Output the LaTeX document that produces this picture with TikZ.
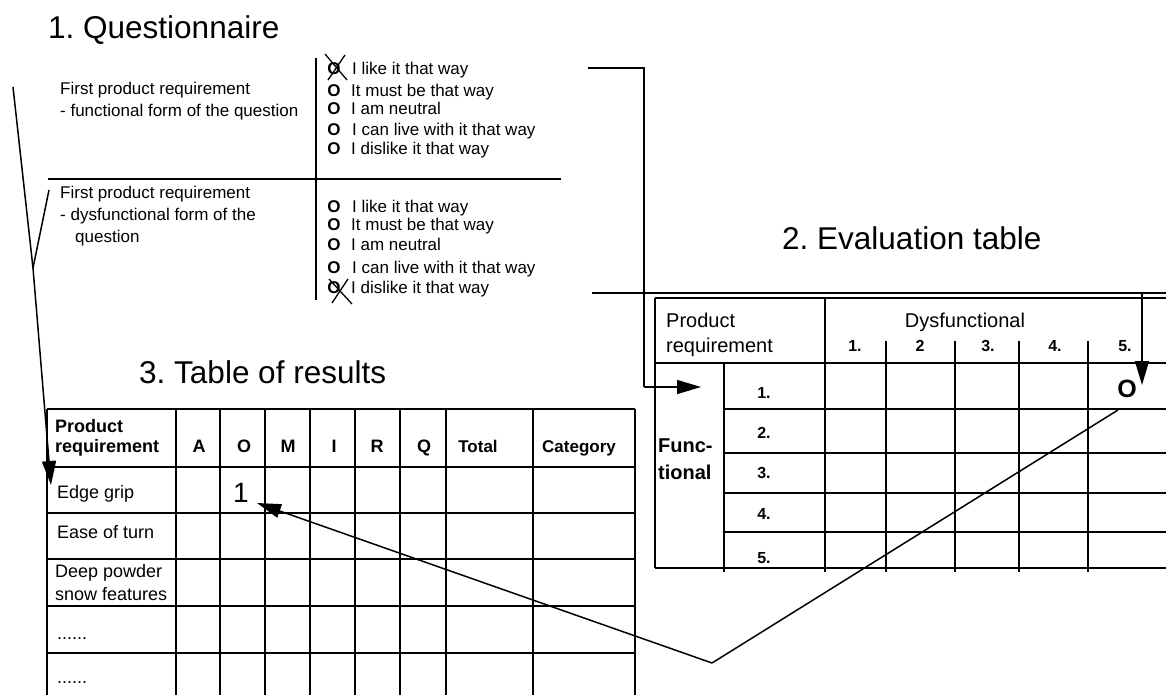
\documentclass[tikz,border=0pt]{standalone}
\usepackage{fontspec}
\setmainfont{Liberation Sans}
\usetikzlibrary{arrows.meta}

\begin{document}
\frenchspacing
\begin{tikzpicture}[x=1pt,y=-1pt,
        grid/.style={line width=1.6pt},
        link/.style={line width=1.5pt},
        linkarrow/.style={line width=1.5pt,-{Triangle[length=24pt,width=14pt]}},
        crossline/.style={line width=1.3pt},
        heading/.style={anchor=base west,inner sep=0pt,font=\fontsize{31.5}{34}\selectfont},
        qtext/.style={anchor=base west,inner sep=0pt,font=\fontsize{17}{20}\selectfont},
        qmark/.style={anchor=base,inner sep=0pt,font=\bfseries\fontsize{17}{20}\selectfont},
        etext/.style={anchor=base west,inner sep=0pt,font=\fontsize{20}{24}\selectfont},
        enum/.style={anchor=base,inner sep=0pt,font=\bfseries\fontsize{16}{20}\selectfont},
        rhead/.style={anchor=base,inner sep=0pt,font=\bfseries\fontsize{18}{22}\selectfont},
        rtext/.style={anchor=base west,inner sep=0pt,font=\fontsize{18}{22}\selectfont}]
    \useasboundingbox (0,0) rectangle (1166,695);

    % titles
    \node[heading] (qtitle) at (48,39) {1. Questionnaire};
    \node[heading] (etitle) at (782,249) {2. Evaluation table};
    \node[heading] (rtitle) at (139,383) {3. Table of results};

    % questionnaire
    \draw[grid] (316,58) -- (316,300);
    \draw[grid] (48,179) -- (561,179);
    \begin{scope}[every node/.style={qtext}]
        \node (qf1) at (60,95) {First product requirement};
        \node (qf2) at (60,117) {- functional form of the question};
        \node (qd1) at (60,198) {First product requirement};
        \node (qd2) at (60,220) {- dysfunctional form of the};
        \node (qd3) at (75,242) {question};
        \node (fo1) at (352,75) {I like it that way};
        \node (fo2) at (351,97) {It must be that way};
        \node (fo3) at (351,115) {I am neutral};
        \node (fo4) at (352,136) {I can live with it that way};
        \node (fo5) at (351,155) {I dislike it that way};
        \node (do1) at (352,212) {I like it that way};
        \node (do2) at (351,230) {It must be that way};
        \node (do3) at (351,250) {I am neutral};
        \node (do4) at (352,273) {I can live with it that way};
        \node (do5) at (351,293) {I dislike it that way};
    \end{scope}
    \begin{scope}[every node/.style={qmark}]
        \node (fm1) at (334,75) {O};
        \node (fm2) at (334,97) {O};
        \node (fm3) at (334,115) {O};
        \node (fm4) at (334,136) {O};
        \node (fm5) at (334,155) {O};
        \node (dm1) at (334,212) {O};
        \node (dm2) at (334,230) {O};
        \node (dm3) at (334,250) {O};
        \node (dm4) at (334,273) {O};
        \node (dm5) at (334,293) {O};
    \end{scope}
    \draw[crossline] (325,54) -- (347,80);
    \draw[crossline] (345,55) -- (328,80);
    \draw[crossline] (329,279) -- (352,304);
    \draw[crossline] (348,279) -- (332,303);

    % evaluation table
    \draw[grid] (655,298) -- (1166,298);
    \draw[grid] (655,363) -- (1166,363);
    \draw[grid] (724,409) -- (1166,409);
    \draw[grid] (724,453) -- (1166,453);
    \draw[grid] (724,493) -- (1166,493);
    \draw[grid] (724,532) -- (1166,532);
    \draw[grid] (655,568) -- (1166,568);
    \draw[grid] (655,298) -- (655,568);
    \draw[grid] (724,363) -- (724,572);
    \draw[grid] (825,298) -- (825,572);
    \draw[grid] (886,341) -- (886,572);
    \draw[grid] (955,341) -- (955,572);
    \draw[grid] (1019,341) -- (1019,572);
    \draw[grid] (1088,341) -- (1088,572);
    \node[etext] (eprod1) at (666,327) {Product};
    \node[etext] (eprod2) at (666,352) {requirement};
    \node[etext,anchor=base] (edys) at (965,327) {Dysfunctional};
    \begin{scope}[every node/.style={enum}]
        \node (ec1) at (855,351) {1.};
        \node (ec2) at (920,351) {2};
        \node (ec3) at (988,351) {3.};
        \node (ec4) at (1055,351) {4.};
        \node (ec5) at (1125,351) {5.};
        \node (er1) at (764,398) {1.};
        \node (er2) at (764,438) {2.};
        \node (er3) at (764,478) {3.};
        \node (er4) at (764,519) {4.};
        \node (er5) at (764,563) {5.};
    \end{scope}
    \node[etext,font=\bfseries\fontsize{20}{24}\selectfont] (efunc1) at (658,452) {Func-};
    \node[etext,font=\bfseries\fontsize{20}{24}\selectfont] (efunc2) at (658,479) {tional};
    \node[anchor=base,inner sep=0pt,font=\bfseries\fontsize{25}{28}\selectfont] (emark) at (1127,397) {O};

    % table of results
    \draw[grid] (47,409) -- (635,409);
    \draw[grid] (47,467) -- (635,467);
    \draw[grid] (47,513) -- (635,513);
    \draw[grid] (47,559) -- (635,559);
    \draw[grid] (47,606) -- (635,606);
    \draw[grid] (47,653) -- (635,653);
    \draw[grid] (47,409) -- (47,695);
    \draw[grid] (176,409) -- (176,695);
    \draw[grid] (220,409) -- (220,695);
    \draw[grid] (265,409) -- (265,695);
    \draw[grid] (310,409) -- (310,695);
    \draw[grid] (355,409) -- (355,695);
    \draw[grid] (400,409) -- (400,695);
    \draw[grid] (446,409) -- (446,695);
    \draw[grid] (533,409) -- (533,695);
    \draw[grid] (635,409) -- (635,695);
    \begin{scope}[every node/.style={rhead}]
        \node[anchor=base west] (rprod1) at (55,432) {Product};
        \node[anchor=base west] (rprod2) at (55,452) {requirement};
        \node (rA) at (199,452) {A};
        \node (rO) at (244,452) {O};
        \node (rM) at (288,452) {M};
        \node (rI) at (334,452) {I};
        \node (rR) at (377,452) {R};
        \node (rQ) at (424,452) {Q};
        \node[font=\bfseries\fontsize{17}{20}\selectfont] (rtotal) at (478,452) {Total};
        \node[font=\bfseries\fontsize{17}{20}\selectfont] (rcat) at (579,452) {Category};
    \end{scope}
    \begin{scope}[every node/.style={rtext}]
        \node (rrow1) at (57,498) {Edge grip};
        \node (rrow2) at (57,538) {Ease of turn};
        \node (rrow3a) at (55,577) {Deep powder};
        \node (rrow3b) at (55,600) {snow features};
        \node (rrow4) at (57,639) {......};
        \node (rrow5) at (57,683) {......};
    \end{scope}
    \node[anchor=base,inner sep=0pt,font=\fontsize{28}{32}\selectfont] (rone) at (241,502) {1};

    % connectors
    \coordinate (qa) at (588,68);
    \coordinate (qacorner) at (644,68);
    \coordinate (qaturn) at (644,387);
    \coordinate (erow) at (701,387);
    \coordinate (qb) at (592,293);
    \coordinate (qbturn) at (1142,293);
    \coordinate (qbend) at (1166,293);
    \coordinate (ecol) at (1142,385);
    \coordinate (yfun) at (13,87);
    \coordinate (ydys) at (49,190);
    \coordinate (yjoin) at (33,268);
    \coordinate (rrow) at (51,485);
    \coordinate (dstart) at (1118,410);
    \coordinate (dbend) at (712,663);
    \coordinate (rcell) at (257,503);

    \draw[link] (qa) -- (qacorner) -- (qaturn);
    \draw[linkarrow] (qaturn) -- (erow);
    \draw[link] (qb) -- (qbend);
    \draw[linkarrow] (qbturn) -- (ecol);
    \draw[link] (yfun) -- (yjoin);
    \draw[link] (ydys) -- (yjoin);
    \draw[linkarrow] (yjoin) -- (rrow);
    \draw[link] (dstart) -- (dbend);
    \draw[linkarrow] (dbend) -- (rcell);
\end{tikzpicture}
\end{document}
